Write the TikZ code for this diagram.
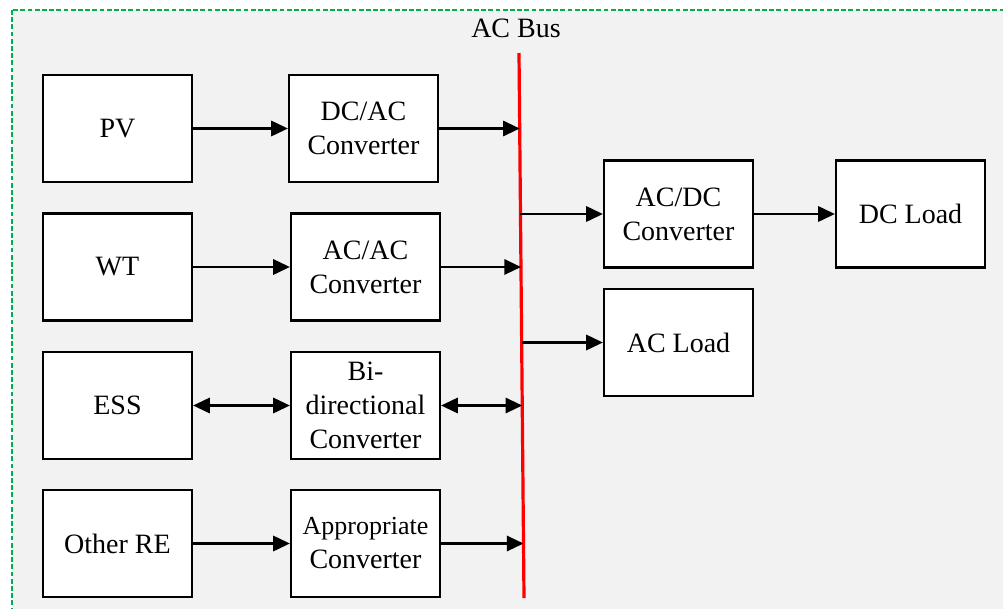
\documentclass[tikz,border=0pt]{standalone}
\usepackage{fontspec}
\setmainfont{Liberation Serif}
\usetikzlibrary{arrows.meta,positioning,calc}
\definecolor{bggray}{HTML}{F2F2F2}
\definecolor{bordergreen}{HTML}{00B050}
\definecolor{busred}{HTML}{FF0000}
\begin{document}
\begin{tikzpicture}[x=0.75pt,y=-0.75pt,
  blk/.style={draw=black,fill=white,line width=1.7pt,minimum width=111.75pt,minimum height=80.25pt,
    inner sep=0pt,align=center,font=\fontsize{21}{25.5}\selectfont},
  tip/.tip={Triangle[length=12.5pt,width=11.5pt]},
  arr/.style={line width=1.6pt,-tip},
  biarr/.style={line width=1.6pt,tip-tip}]
\useasboundingbox (0,0) rectangle (1003,608);
\clip (0,0) rectangle (1003,608);
\draw[fill=bggray,draw=bordergreen,line width=1.8pt,dash pattern=on 3.6pt off 1.8pt] (12,10) rectangle (1020,625);
% bus
\coordinate (busTop) at (519,53);
\coordinate (busBot) at (524,598);
\draw[busred,line width=2.4pt] (busTop) -- (busBot);
\node[font=\fontsize{21}{25}\selectfont] (buslabel) at (516,28) {AC Bus};
% boxes
\node[blk] (pv) at (117.5,128.5) {PV};
\node[blk] (dcac) at (363.5,128.5) {DC/AC\\Converter};
\node[blk] (wt) at (117.5,267) {WT};
\node[blk] (acac) at (365.5,267) {AC/AC\\Converter};
\node[blk] (ess) at (117.5,405.5) {ESS};
\node[blk] (bidir) at (365.5,405.5) {Bi-\\directional\\Converter};
\node[blk] (other) at (117.5,543.5) {Other RE};
\node[blk] (appr) at (365.5,543.5) {{\fontsize{19.5}{25.5}\selectfont Appropriate}\\Converter};
\node[blk] (acdc) at (678.5,214) {AC/DC\\Converter};
\node[blk] (dcload) at (910.5,214) {DC Load};
\node[blk] (acload) at (678.5,342.5) {AC Load};
% points on the bus
\path (busTop) -- (busBot)
  coordinate[pos=0.1413] (b1)
  coordinate[pos=0.2936] (b5)
  coordinate[pos=0.3963] (b2)
  coordinate[pos=0.5303] (b6)
  coordinate[pos=0.6477] (b3)
  coordinate[pos=0.9028] (b4);
% connectors
\draw[arr] (pv) -- (dcac);
\draw[arr] (dcac.east) -- (dcac.east -| b1);
\draw[arr] (wt) -- (acac);
\draw[arr] (acac.east) -- (acac.east -| b2);
\draw[biarr] (ess) -- (bidir);
\draw[biarr] (bidir.east) -- (bidir.east -| b3);
\draw[arr] (other) -- (appr);
\draw[arr] (appr.east) -- (appr.east -| b4);
\draw[arr] (acdc.west -| b5) -- (acdc.west);
\draw[arr] (acdc) -- (dcload);
\draw[arr] (acload.west -| b6) -- (acload.west);
\end{tikzpicture}
\end{document}
